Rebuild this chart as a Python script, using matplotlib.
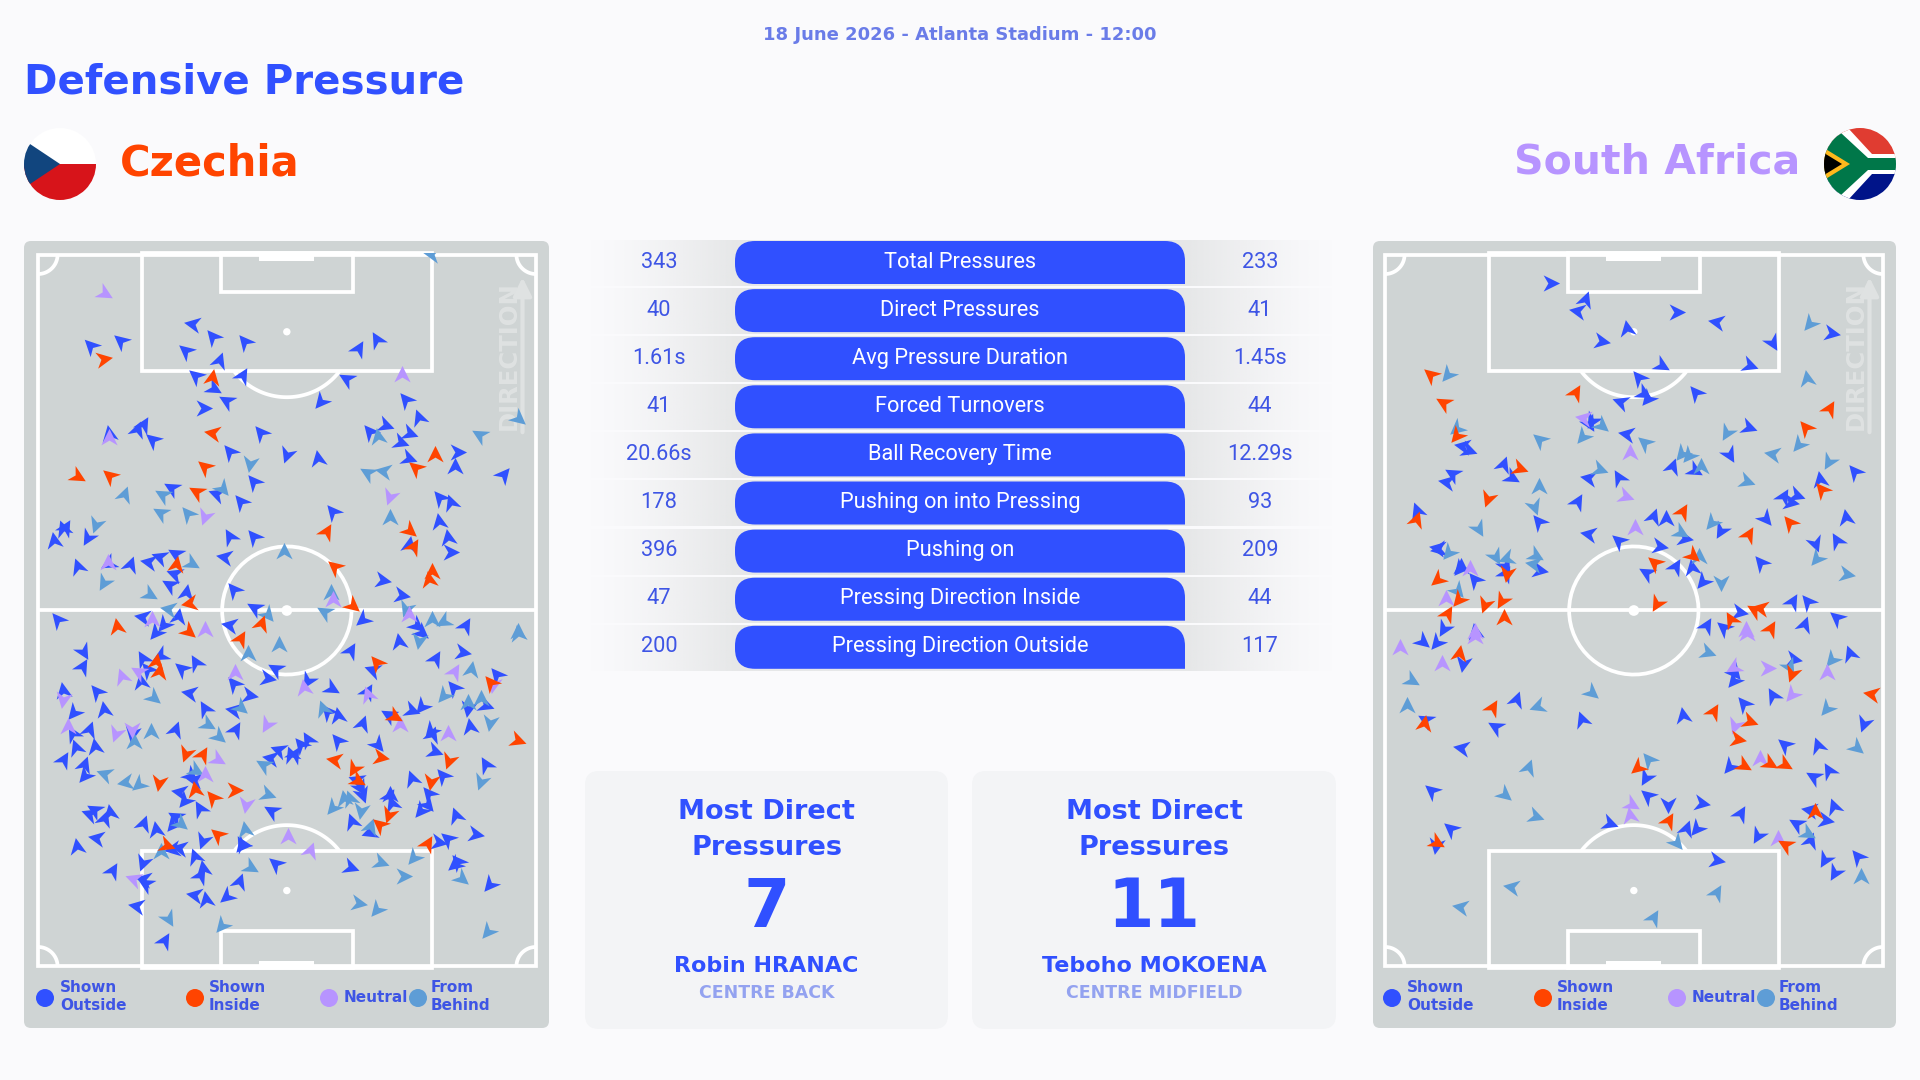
import numpy as np
import matplotlib
matplotlib.use('Agg')
import matplotlib.pyplot as plt
from matplotlib.markers import MarkerStyle
from matplotlib.patches import Circle, FancyBboxPatch, PathPatch, Polygon, Rectangle
from matplotlib.path import Path
from matplotlib.transforms import Affine2D

## Colors
BG = '#FAFAFC'
BLUE = '#3050FF'
TEXTBLUE = '#3E55E5'
ORANGE = '#FF4400'
PURPLE = '#B794FF'
SKY = '#5E9DD6'
PANEL = '#CFD4D4'
CARD = '#F3F4F6'

## Table
stat_labels = ['Total Pressures', 'Direct Pressures', 'Avg Pressure Duration', 'Forced Turnovers',
               'Ball Recovery Time', 'Pushing on into Pressing', 'Pushing on',
               'Pressing Direction Inside', 'Pressing Direction Outside']
czechia_stats = ['343', '40', '1.61s', '41', '20.66s', '178', '396', '47', '200']
safrica_stats = ['233', '41', '1.45s', '44', '12.29s', '93', '209', '44', '117']

## Pressure events read off the pitch: (across, along, heading in degrees)
## along is measured per half, the lower half gets HALF_SHIFT added
HALF_SHIFT = 1185

cz_outside_top = [(510,268,170),(570,308,130),(665,322,130),(207,335,135),(295,320,140),(490,350,140),(588,380,70),
    (1000,342,60),(1055,315,120),(518,422,140),(655,422,60),(570,458,-30),(965,433,150),(610,498,150),(540,520,0),
    (890,498,-130),(1140,495,130),(1180,548,110),(360,570,60),(345,585,70),(392,615,140),(262,597,100),(1035,590,130),
    (1080,570,-20),(1150,595,-20),(1125,622,-20),(1148,668,-20),(1293,652,0),(1288,697,90),(710,595,130),(618,650,130),
    (788,658,-110),(880,672,100),(690,742,130),(448,760,150),(580,778,160),(652,802,130),(1430,720,50),(1242,790,130),
    (1275,805,110),(925,830,130),(1240,862,100),(1265,908,100),(1272,950,0),(620,905,120),(690,905,130),(1150,930,80),
    (605,965,170),(125,882,110),(130,880,60),(98,918,100),(197,905,-120),(168,997,110),(260,985,-150),(322,990,70),
    (380,980,170),(412,965,160),(458,958,150),(455,1018,160),(440,1050,150),(488,1075,80),(630,1065,130),(693,1118,150),
    (1070,1035,-10),(1128,1080,-10),(1015,1150,-140),(620,1168,170),(360,1145,170),(465,1145,80),(425,1165,-130),
    (110,1155,130),(1170,1168,-40),(1315,1172,60),(400,1190,-130),(1185,1190,-40)]
cz_outside_bottom = [(183,62,-60),(180,110,60),(360,85,120),(415,75,-150),(375,120,130),(355,155,100),(478,115,140),
    (518,98,120),(125,182,100),(225,185,130),(245,240,100),(500,188,170),(545,235,120),(632,160,130),(675,195,-10),
    (632,240,170),(635,298,60),(455,298,70),(158,245,-130),(155,310,120),(200,300,70),(330,308,-100),(163,352,110),
    (218,350,100),(125,390,60),(185,405,70),(188,435,-130),(755,115,150),(728,143,-10),(850,148,-120),(920,172,-30),
    (975,62,60),(1122,35,100),(1045,120,160),(1228,85,60),(1308,65,-10),(1025,185,60),(1155,238,-20),(1190,228,-130),
    (1090,255,150),(1010,282,70),(910,245,130),(940,258,100),(1325,232,-100),(1375,225,-20),(1285,172,130),(1410,135,130),
    (1330,290,100),(1215,300,-130),(1220,315,70),(1225,362,-20),(940,332,130),(1055,340,-50),(1380,405,120),(1160,445,110),
    (1250,438,130),(1210,490,130),(1205,520,-50),(1185,540,-130),(1290,558,110),(1345,610,-10),(1265,625,140),(1235,635,-10),
    (850,330,120),(830,345,130),(810,375,60),(800,375,110),(765,360,160),(740,382,170),(500,435,-40),(515,450,170),
    (470,485,170),(485,510,-130),(530,535,120),(995,450,160),(1005,470,-60),(1010,490,-70),(1095,495,90),(1100,520,110),
    (1090,500,60),(745,543,150),(980,575,110),(1035,605,-160),(205,550,160),(220,540,150),(245,565,70),(265,548,100),
    (360,580,70),(400,600,100),(460,560,150),(450,580,-130),(225,622,170),(165,650,100),(538,630,-110),(515,680,110),
    (540,715,100),(530,735,60),(470,652,170),(450,655,-170),(655,640,120),(655,645,-130),(645,755,70),(755,700,140),
    (975,710,-20),(1295,695,130),(1288,700,-140),(360,695,-110),(268,720,60),(365,745,170),(370,760,150),(515,792,170),
    (548,808,100),(612,795,-140),(345,825,170),(425,932,60),(1390,760,-130)]
cz_inside_top = [(242,372,10),(565,430,80),(570,595,170),(165,722,-30),(265,722,140),(545,695,140),(522,772,150),
    (458,990,80),(500,1105,-170),(285,1175,100),(905,890,60),(930,995,140),(980,1110,-40),(1150,885,-40),(1162,935,60),
    (1228,660,90),(1170,700,140),(1220,1010,90),(1210,1035,100),(495,1188,-40),(710,1165,70)]
cz_inside_bottom = [(650,25,60),(400,95,80),(410,125,80),(1055,98,130),(1105,258,-30),(1470,328,-20),(488,368,-110),
    (535,375,60),(930,390,170),(988,412,-120),(1065,380,-10),(1270,388,-110),(410,455,-100),(515,478,100),(570,503,130),
    (630,478,0),(995,450,-30),(1215,452,-100),(1065,583,140),(1090,550,-110),(585,615,140),(430,645,-20),(1205,640,60),
    (1395,158,130)]
cz_neutral_top = [(245,175,-30),(262,610,90),(1130,420,90),(1095,782,-110),(545,842,-110),(258,985,90),(925,1095,90),
    (1150,1140,90),(388,1155,90),(545,1185,90)]
cz_neutral_bottom = [(635,128,90),(298,140,110),(350,125,150),(125,205,-100),(140,290,90),(840,172,100),(1030,195,110),
    (280,308,-110),(330,295,-90),(730,280,-120),(1125,285,90),(1283,125,60),(1265,310,90),(580,385,-30),(545,435,90),
    (668,520,-100),(790,620,90),(858,660,70),(335,745,160),(1400,160,-100)]
cz_behind_top = [(680,685,-100),(305,780,70),(420,780,150),(595,760,-50),(415,835,150),(495,838,130),(222,868,-110),
    (245,1040,-120),(503,985,-30),(378,1078,-30),(438,1122,170),(780,950,90),(1058,605,100),(1028,715,150),(1075,708,170),
    (1095,850,90),(1142,1118,-110),(918,1075,90),(900,1130,150),(730,1135,-50),(1218,1155,90),(1255,1158,-150),(1360,600,150),
    (1475,548,-40),(1473,1190,90),(1220,58,170)]
cz_behind_bottom = [(1475,12,100),(1180,30,-100),(765,45,90),(672,72,90),(390,200,-40),(552,280,-30),(585,318,-40),
    (650,230,-40),(385,305,90),(335,335,90),(895,235,110),(1335,120,80),(1255,195,-130),(1365,205,90),(1325,218,90),
    (1390,275,-100),(250,432,160),(312,455,-170),(350,462,-140),(515,420,-30),(720,405,150),(730,490,-20),(925,530,-130),
    (958,505,100),(975,505,110),(1008,538,-100),(1365,452,-110),(1035,590,70),(470,578,-40),(665,600,100),(415,665,90),
    (678,708,-30),(1065,695,-20),(1165,680,-130),(1132,737,0),(1305,742,-40),(1000,818,-10),(1055,835,-130),(595,882,-130),
    (435,862,-60),(1385,902,-130)]

za_outside_top = [(532,145,0),(638,195,70),(615,228,170),(908,232,0),(1028,262,170),(762,282,100),(686,320,-10),
    (1368,294,-10),(1192,322,-60),(1125,390,-20),(862,392,-30),(797,428,130),(810,475,-30),(825,488,-130),(743,500,160),
    (965,475,130),(658,555,-120),(650,565,-60),(762,597,170),(1122,575,-20),(290,645,-20),(275,632,170),(395,690,70),
    (418,725,-30),(245,718,150),(228,742,170),(1065,658,-60),(648,728,170),(738,728,120),(895,697,70),(960,705,-30),
    (1438,712,130),(1333,735,100),(1225,785,60),(1262,780,-20),(1245,802,-10),(612,802,60),(140,828,110),(500,860,130),
    (838,845,70),(878,852,90),(1040,885,-120),(1170,850,-50),(1412,850,100),(650,898,170),(738,918,140),(858,932,-10),
    (930,908,-10),(1318,925,-70),(1385,918,120),(200,940,170),(205,942,-170),(1160,985,130),(270,995,90),(265,1000,-130),
    (310,1035,130),(905,995,60),(955,998,100),(820,1015,150),(988,1038,-130),(400,990,-60),(400,1018,60),(500,1005,-10),
    (1250,1100,60),(1298,1100,130),(1095,1130,-10),(1385,1148,140),(995,1172,60),(1050,1178,140),(1288,1170,70),
    (218,1178,-120),(310,1190,100)]
za_outside_bottom = [(155,32,-40),(198,35,-130),(275,98,-100),(1255,85,-10),(1422,72,110),(1078,125,-50),(1078,150,-130),
    (432,208,70),(628,268,110),(1108,222,130),(1195,198,120),(928,258,100),(165,268,150),(372,290,150),(272,352,170),
    (1465,278,-110),(1230,345,140),(1328,348,110),(1068,408,-130),(1315,440,150),(1362,422,120),(818,440,-120),(182,482,140),
    (825,497,140),(883,520,-90),(982,517,-10),(1097,550,60),(1375,530,110),(1305,540,170),(1265,582,150),(1348,570,-10),
    (708,578,-20),(240,595,140),(195,645,-100),(938,595,70),(970,592,-130),(1150,615,-120),(1305,632,70),(1025,688,-10),
    (1348,685,-120),(1447,678,130),(1380,725,-120)]
za_inside_top = [(180,420,140),(218,505,150),(258,600,-130),(440,700,-20),(350,788,-110),(608,475,60),(135,855,70),
    (1292,580,130),(1362,522,60),(1340,765,130),(1245,865,130),(925,830,60),(1120,900,60),(845,985,140),(955,960,-40),
    (200,1033,-140),(405,1015,-100),(262,1092,-130),(340,1108,-110),(390,1095,-120),(228,1135,60),(398,1148,90),
    (852,1103,-120),(1140,1125,150),(1160,1118,170),(1070,1155,120),(1185,1180,60)]
za_inside_bottom = [(262,70,80),(362,232,60),(160,280,80),(1250,128,-110),(1488,190,170),(1018,245,60),(1125,272,-20),
    (1088,325,-10),(795,410,-140),(1107,405,-30),(1182,398,-30),(1228,400,-30),(883,572,60),(1320,545,90),(1232,645,150),
    (195,635,-30)]
za_neutral_top = [(635,548,170),(770,655,90),(755,782,-20),(785,880,90),(297,1003,90),(225,1092,90),(312,1190,90),(1115,1185,90)]
za_neutral_bottom = [(87,53,90),(312,20,90),(212,100,90),(1118,10,90),(1078,110,-150),(1178,112,0),(1355,127,90),
    (1250,190,-130),(1082,285,-110),(1155,385,90),(775,522,-30),(772,558,100),(1210,625,90)]
za_behind_top = [(232,418,-130),(258,580,-140),(505,615,140),(632,603,-130),(685,570,-40),(815,625,140),(1058,590,-120),
    (1195,658,170),(1272,628,-130),(1360,678,-120),(1305,265,-130),(1295,432,100),(925,655,-130),(945,660,-130),(980,695,90),
    (678,703,-20),(502,757,90),(487,812,-70),(1115,738,-20),(320,878,-60),(235,950,-130),(370,962,-60),(405,968,-160),
    (488,960,-30),(485,988,170),(918,890,-30),(1015,862,-130),(975,965,90),(1040,1040,-90),(1325,970,-130),(1410,1018,-10),
    (258,1065,-50)]
za_behind_bottom = [(1000,65,-20),(1370,85,-130),(1243,108,-60),(120,148,-30),(110,228,90),(497,228,-160),(655,185,-40),
    (1355,232,-130),(1440,350,-40),(828,388,130),(468,412,70),(398,492,-40),(488,557,-20),(908,635,-50),(1295,607,-30),
    (422,768,170),(268,830,170),(1027,788,60),(840,862,60),(1455,740,90)]

## Marker
DART = Path([(1, 0), (-0.72, 0.85), (-0.22, 0), (-0.72, -0.85), (1, 0)],
            [Path.MOVETO, Path.LINETO, Path.LINETO, Path.LINETO, Path.CLOSEPOLY])


def DrawEvents(ax, top, bottom, color):
    rows = top + [(x, y + HALF_SHIFT, a) for x, y, a in bottom]
    for x, y, a in rows:
        m = MarkerStyle(DART, transform=Affine2D().rotate_deg(a))
        ax.scatter([x], [y], marker=m, s=190, color=color, linewidths=0, zorder=5)


def DrawArc(ax, cx, cy, r, t1, t2):
    t = np.radians(np.linspace(t1, t2, 60))
    ax.plot(cx + r * np.cos(t), cy + r * np.sin(t), color='white', lw=2.7, solid_capstyle='butt', clip_on=False)


def DrawPitch(ax, x0):
    lw = 2.7
    mid = x0 + 741
    x1 = x0 + 1483
    top, bot = 55, 2197
    half = 1126
    ax.set_xlim(x0, x1)
    ax.set_ylim(bot, top)
    ax.axis('off')
    ax.patch.set_alpha(0)
    rect = dict(fill=False, ec='white', lw=lw, clip_on=False)
    ax.add_patch(Rectangle((x0 + 3, top + 5), 1477, bot - top - 10, **rect))
    ax.plot([x0, x1], [half, half], color='white', lw=lw)
    # boxes, top then bottom
    ax.add_patch(Rectangle((mid - 431, top), 862, 353, **rect))
    ax.add_patch(Rectangle((mid - 195, top), 390, 117, **rect))
    ax.add_patch(Rectangle((mid - 431, 1847), 862, bot - 1847, **rect))
    ax.add_patch(Rectangle((mid - 195, 2085), 390, bot - 2085, **rect))
    ax.add_patch(Rectangle((mid - 82, top), 164, 25, fc='white', ec='none'))
    ax.add_patch(Rectangle((mid - 82, 2175), 164, 22, fc='white', ec='none'))
    # circles and spots
    DrawArc(ax, mid, half, 192, 0, 360)
    DrawArc(ax, mid, 291, 196, 37, 143)
    DrawArc(ax, mid, 1965, 196, 217, 323)
    for y, r in [(291, 11), (1965, 11), (half, 16)]:
        ax.add_patch(Circle((mid, y), r, fc='white', ec='none', zorder=2))
    # corners
    DrawArc(ax, x0 + 3, top + 5, 58, 0, 90)
    DrawArc(ax, x1 - 3, top + 5, 58, 90, 180)
    DrawArc(ax, x0 + 3, bot - 5, 58, 270, 360)
    DrawArc(ax, x1 - 3, bot - 5, 58, 180, 270)
    # direction marker
    ax.text(x0 + 1398, 362, 'DIRECTION', rotation=90, ha='center', va='center', color='#DFE2E2',
            fontsize=17.5, fontweight='bold', zorder=1)
    ax.annotate('', xy=(x0 + 1440, 128), xytext=(x0 + 1440, 592), zorder=1,
                arrowprops=dict(arrowstyle='-|>,head_width=0.55,head_length=1.1', color='#DFE2E2', lw=3, shrinkA=0, shrinkB=0))


def RoundBar(ax, x0, x1, y0, y1, r):
    verts = [(x0 + r, y0), (x1 - r, y0), (x1, y0), (x1, y0 + r), (x1, y1), (x0 + r, y1), (x0, y1), (x0, y1 - r),
             (x0, y0 + r), (x0, y0), (x0 + r, y0), (x0 + r, y0)]
    codes = [Path.MOVETO, Path.LINETO, Path.CURVE3, Path.CURVE3, Path.LINETO, Path.LINETO, Path.CURVE3, Path.CURVE3,
             Path.LINETO, Path.CURVE3, Path.CURVE3, Path.CLOSEPOLY]
    ax.add_patch(PathPatch(Path(verts, codes), fc=BLUE, ec='none', zorder=3))


def DrawLegend(ax, cx, tx):
    names = [['Shown', 'Outside'], ['Shown', 'Inside'], ['Neutral'], ['From', 'Behind']]
    for c, t, lines, col in zip(cx, tx, names, [BLUE, ORANGE, PURPLE, SKY]):
        ax.add_patch(Circle((c, 998), 9, fc=col, ec='none', zorder=6))
        ys = [988, 1006] if len(lines) == 2 else [997]
        for y, s in zip(ys, lines):
            ax.text(t, y, s, color=TEXTBLUE, fontsize=11, fontweight='bold', va='center', ha='left', zorder=6)


fig = plt.figure(figsize=(19.2, 10.8), dpi=100, facecolor=BG)
main = fig.add_axes([0, 0, 1, 1])
main.set_xlim(0, 1920)
main.set_ylim(1080, 0)
main.axis('off')

# Header
main.text(960, 35, '18 June 2026 - Atlanta Stadium - 12:00', color='#6A7CE8', fontsize=13, fontweight='bold', ha='center', va='center')
main.text(24, 82, 'Defensive Pressure', color=BLUE, fontsize=29, fontweight='bold', ha='left', va='center')
main.text(120, 163, 'Czechia', color=ORANGE, fontsize=30, fontweight='bold', ha='left', va='center')
main.text(1800, 163, 'South Africa', color=PURPLE, fontsize=29.5, fontweight='bold', ha='right', va='center')

# Flags
clip = Circle((60, 164), 36, transform=main.transData)
flag = [main.add_patch(Rectangle((24, 128), 72, 36, fc='white', ec='none')),
        main.add_patch(Rectangle((24, 164), 72, 36, fc='#D7141A', ec='none')),
        main.add_patch(Polygon([(6, 128), (60, 164), (6, 200)], fc='#11457E', ec='none'))]
for p in flag:
    p.set_clip_path(clip)

clip = Circle((1860, 164), 36, transform=main.transData)
flag = [main.add_patch(Rectangle((1824, 128), 72, 36, fc='#E03C31', ec='none')),
        main.add_patch(Rectangle((1824, 164), 72, 36, fc='#001489', ec='none')),
        main.add_patch(Polygon([(1824, 128), (1848, 128), (1872, 154), (1896, 154), (1896, 174), (1872, 174),
                                (1848, 200), (1824, 200)], fc='white', ec='none')),
        main.add_patch(Polygon([(1824, 133), (1841, 133), (1868, 158), (1896, 158), (1896, 170), (1868, 170),
                                (1841, 195), (1824, 195)], fc='#007749', ec='none')),
        main.add_patch(Polygon([(1824, 148), (1850, 164), (1824, 180)], fc='#FFB81C', ec='none')),
        main.add_patch(Polygon([(1824, 153), (1842, 164), (1824, 175)], fc='black', ec='none'))]
for p in flag:
    p.set_clip_path(clip)

# Pitch panels
for x, w in [(24, 525), (1373, 523)]:
    main.add_patch(FancyBboxPatch((x, 241), w, 787, boxstyle='round,pad=0,rounding_size=7', fc=PANEL, ec='none'))

# Table
fade = np.concatenate([np.linspace(0, 1, 150), np.ones(450), np.linspace(1, 0, 150)]) ** 1.3
rgba = np.zeros((1, fade.size, 4))
rgba[..., :3] = matplotlib.colors.to_rgb('#E6E7E8')
rgba[..., 3] = fade
for i, (label, a, b) in enumerate(zip(stat_labels, czechia_stats, safrica_stats)):
    top = 241 + 48.1 * i
    main.imshow(rgba, extent=(588, 1335, top + 45, top - 1), aspect='auto', zorder=1)
    RoundBar(main, 735, 1185, top, top + 43, 20)
    main.text(960, top + 21, label, color='white', fontsize=15.7, family='Roboto', ha='center', va='center', zorder=4)
    main.text(659, top + 21, a, color=TEXTBLUE, fontsize=15.7, family='Roboto', ha='center', va='center', zorder=4)
    main.text(1260, top + 21, b, color=TEXTBLUE, fontsize=15.7, family='Roboto', ha='center', va='center', zorder=4)
main.set_xlim(0, 1920)
main.set_ylim(1080, 0)

# Cards
cards = [(585, 363, '7', 'Robin HRANAC', 'CENTRE BACK'), (972, 364, '11', 'Teboho MOKOENA', 'CENTRE MIDFIELD')]
for x, w, num, name, role in cards:
    c = x + w / 2
    main.add_patch(FancyBboxPatch((x, 771), w, 258, boxstyle='round,pad=0,rounding_size=14', fc=CARD, ec='none'))
    main.text(c, 812, 'Most Direct', color=BLUE, fontsize=19.5, fontweight='bold', ha='center', va='center')
    main.text(c, 848, 'Pressures', color=BLUE, fontsize=19.5, fontweight='bold', ha='center', va='center')
    main.text(c, 908, num, color=BLUE, fontsize=48, fontweight='bold', ha='center', va='center')
    main.text(c, 966, name, color=BLUE, fontsize=16, fontweight='bold', ha='center', va='center')
    main.text(c, 993, role, color='#93A2F0', fontsize=12.5, fontweight='bold', ha='center', va='center')

DrawLegend(main, [45, 195, 329, 418], [60, 209, 344, 431])
DrawLegend(main, [1392, 1543, 1677, 1766], [1407, 1557, 1692, 1779])

# Pitches
left = fig.add_axes([37 / 1920, 1 - 968 / 1080, 500 / 1920, 715 / 1080])
DrawPitch(left, 47)
DrawEvents(left, cz_outside_top, cz_outside_bottom, BLUE)
DrawEvents(left, cz_behind_top, cz_behind_bottom, SKY)
DrawEvents(left, cz_neutral_top, cz_neutral_bottom, PURPLE)
DrawEvents(left, cz_inside_top, cz_inside_bottom, ORANGE)

right = fig.add_axes([1384 / 1920, 1 - 968 / 1080, 500 / 1920, 715 / 1080])
DrawPitch(right, 41)
DrawEvents(right, za_outside_top, za_outside_bottom, BLUE)
DrawEvents(right, za_behind_top, za_behind_bottom, SKY)
DrawEvents(right, za_neutral_top, za_neutral_bottom, PURPLE)
DrawEvents(right, za_inside_top, za_inside_bottom, ORANGE)

fig.savefig('out.png', dpi=100, facecolor=BG)
